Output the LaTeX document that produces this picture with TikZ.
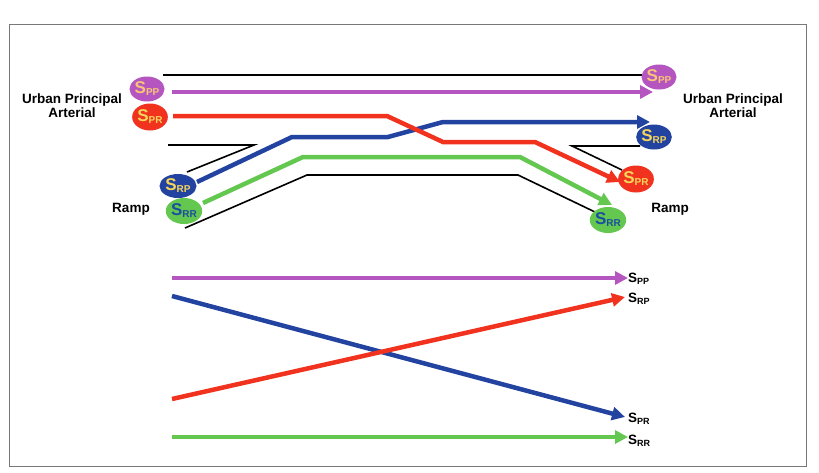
\documentclass[tikz,border=0pt]{standalone}
\usepackage{fontspec}
\setmainfont{Liberation Sans}
\usetikzlibrary{shapes.geometric,arrows.meta}
\definecolor{cpur}{HTML}{B455C0}
\definecolor{cred}{HTML}{F0321E}
\definecolor{cblu}{HTML}{2343A0}
\definecolor{cgrn}{HTML}{64C850}
\definecolor{cyel}{HTML}{F5D55A}
\definecolor{corg}{HTML}{F8C478}
\definecolor{ctxb}{HTML}{1A4FA0}
\definecolor{cfrm}{HTML}{777777}
\newcommand{\sigtxt}[1]{\bfseries{\fontsize{17}{17}\selectfont S}\raisebox{-2pt}{\fontsize{10}{10}\selectfont #1}}
\newcommand{\sublbl}[1]{\bfseries{\fontsize{13.5}{13.5}\selectfont S}\raisebox{-2pt}{\fontsize{9}{9}\selectfont #1}}
\begin{document}
\begin{tikzpicture}[x=1pt,y=-1pt,
  flow/.style={line width=4.5pt,-{Triangle[length=13pt,width=13pt]}},
  road/.style={line width=1.6pt,black},
  sig/.style={ellipse,minimum width=35pt,minimum height=25pt,inner sep=0pt},
  lbl/.style={font=\bfseries\fontsize{13.5}{14}\selectfont,align=center},
  slbl/.style={anchor=west,inner sep=0pt}]
\useasboundingbox (0,0) rectangle (819,472);
\draw[cfrm,line width=1pt] (9,24) rectangle (806,466);

% texts
\node[lbl] (uleft) at (72,106) {Urban Principal\\Arterial};
\node[lbl] (uright) at (733,106) {Urban Principal\\Arterial};
\node[lbl] (rleft) at (131,209) {Ramp};
\node[lbl] (rright) at (670,209) {Ramp};

% roads (black)
\draw[road] (163,75) -- (642,75);
\draw[road] (168,145) -- (254,145) -- (187,172);
\draw[road] (185,228) -- (307,175) -- (518,175) -- (595,212);
\draw[road] (640,146) -- (572,146) -- (622,170);

% ellipses
\node[sig,fill=cpur,text=corg] (lpp) at (147,89) {\sigtxt{PP}};
\node[sig,fill=cred,text=cyel,minimum height=27pt] (lpr) at (150,117) {\sigtxt{PR}};
\node[sig,fill=cblu,text=cyel,minimum width=37pt,minimum height=24pt] (lrp) at (178,186) {\sigtxt{RP}};
\node[sig,fill=cgrn,text=ctxb,minimum height=26pt] (lrr) at (184,211) {\sigtxt{RR}};
\node[sig,fill=cpur,text=corg] (rpp) at (659,77) {\sigtxt{PP}};
\node[sig,fill=cblu,text=cyel] (rrp) at (654,137) {\sigtxt{RP}};
\node[sig,fill=cred,text=cyel,minimum width=33pt,minimum height=27pt] (rpr) at (636,179) {\sigtxt{PR}};
\node[sig,fill=cgrn,text=ctxb,minimum height=26pt] (rrr) at (608,220) {\sigtxt{RR}};

% top flows
\draw[flow,cpur] (172,92) -- (653,92);
\draw[flow,cblu] (197,182) -- (292,137) -- (388,137) -- (443,122) -- (650,122);
\draw[flow,cred] (173,116) -- (387,116) -- (443,142) -- (535,142) -- (620,182);
\draw[flow,cgrn] (203,203) -- (303,157) -- (520,157) -- (612,205);

% bottom labels
\node[slbl] (bpp) at (628,279) {\sublbl{PP}};
\node[slbl] (brp) at (628,299) {\sublbl{RP}};
\node[slbl] (bpr) at (628,419) {\sublbl{PR}};
\node[slbl] (brr) at (628,441) {\sublbl{RR}};

% bottom flows
\coordinate (spp) at (172,278);
\coordinate (srp) at (172,296);
\coordinate (spr) at (172,399);
\coordinate (srr) at (172,437);
\draw[flow,cpur] (spp) -- (bpp.west |- spp);
\draw[flow,cblu] (srp) -- (625,417);
\draw[flow,cred] (spr) -- (625,297);
\draw[flow,cgrn] (srr) -- (bpp.west |- srr);
\end{tikzpicture}
\end{document}
